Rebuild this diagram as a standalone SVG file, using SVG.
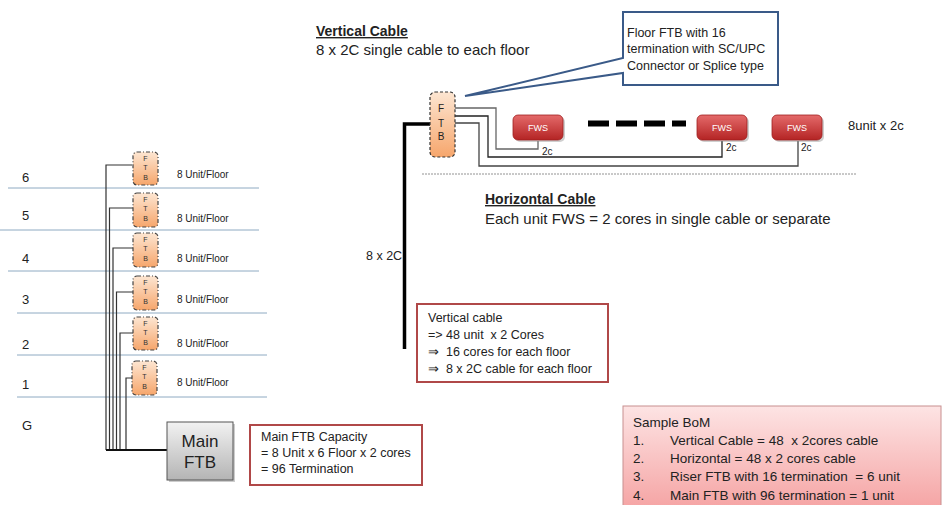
<svg xmlns="http://www.w3.org/2000/svg" width="945" height="505" viewBox="0 0 945 505">
<defs>
<linearGradient id="gOr" x1="0" y1="0" x2="0" y2="1"><stop offset="0" stop-color="#fde6d2"/><stop offset="1" stop-color="#f6a66c"/></linearGradient>
<linearGradient id="gRed" x1="0" y1="0" x2="0" y2="1"><stop offset="0" stop-color="#e46a6a"/><stop offset="1" stop-color="#b42424"/></linearGradient>
<linearGradient id="gGray" x1="0" y1="0" x2="0" y2="1"><stop offset="0" stop-color="#f2f2f2"/><stop offset="1" stop-color="#b4b4b4"/></linearGradient>
<linearGradient id="gPink" x1="0" y1="0" x2="0" y2="1"><stop offset="0" stop-color="#fde4e4"/><stop offset="1" stop-color="#f5a3a3"/></linearGradient>
</defs>
<style>
text{font-family:"Liberation Sans",Arial,sans-serif;fill:#222;white-space:pre}
.floor{stroke:#8eaac2;stroke-width:1}
.ftb{fill:url(#gOr);stroke:#444;stroke-width:1.2;stroke-dasharray:4 2 1 2}
.ftbl{font-size:7px;text-anchor:middle;fill:#333}
.unit{font-size:10px}
.fl{font-size:13px}
.w{fill:none;stroke:#333;stroke-width:1.2}
.fws{fill:url(#gRed);stroke:#a02020;stroke-width:0.8}
.fwst{font-size:9px;fill:#fff;text-anchor:middle}
.box{fill:#fff;stroke:#b04848;stroke-width:2}
.bt{font-size:12.5px}
.c2{font-size:10px}
.bom{font-size:13.5px}
</style>

<g id="floors">
<line class="floor" x1="8" y1="188" x2="259" y2="188"/>
<line class="floor" x1="0" y1="230" x2="259" y2="230"/>
<line class="floor" x1="8" y1="271" x2="259" y2="271"/>
<line class="floor" x1="17" y1="313" x2="267" y2="313"/>
<line class="floor" x1="17" y1="355" x2="267" y2="355"/>
<line class="floor" x1="17" y1="397" x2="267" y2="397"/>
<text class="fl" x="22" y="182">6</text>
<text class="fl" x="22" y="220">5</text>
<text class="fl" x="22" y="263">4</text>
<text class="fl" x="22" y="304">3</text>
<text class="fl" x="22" y="349">2</text>
<text class="fl" x="22" y="389">1</text>
<text class="fl" x="22" y="430">G</text>
</g>

<g id="connectors">
<polyline class="w" points="132,165 106,165 106,450"/>
<polyline class="w" points="133,208 109.5,208 109.5,450"/>
<polyline class="w" points="133,248 113,248 113,450"/>
<polyline class="w" points="133,292 116.5,292 116.5,450"/>
<polyline class="w" points="133,333 120,333 120,450"/>
<polyline class="w" points="132,378 126,378 126,450"/>
<line x1="106" y1="450" x2="168" y2="450" stroke="#111" stroke-width="2"/>
<polyline points="430,124 404.5,124 404.5,349" fill="none" stroke="#000" stroke-width="3.5"/>
<polyline points="447,108 496,108 496,149 538,149 538,141" fill="none" stroke="#666" stroke-width="1.3"/>
<polyline points="447,116 488,116 488,157 722,157 722,141" fill="none" stroke="#222" stroke-width="1.3"/>
<polyline points="447,123 479,123 479,166 798,166 798,141" fill="none" stroke="#444" stroke-width="1.3"/>
<line x1="588" y1="123.5" x2="686" y2="123.5" stroke="#000" stroke-width="6" stroke-dasharray="21 7"/>
<line x1="422" y1="174" x2="856" y2="174" stroke="#777" stroke-width="0.8" stroke-dasharray="2 1"/>
</g>

<g id="ftb6"><rect class="ftb" x="133" y="152" width="25" height="33" rx="4"/><text class="ftbl" x="145.5" y="161">F</text><text class="ftbl" x="145.5" y="170">T</text><text class="ftbl" x="145.5" y="180">B</text><text class="unit" x="177" y="178">8 Unit/Floor</text></g>
<g id="ftb5"><rect class="ftb" x="133" y="193" width="25" height="34" rx="4"/><text class="ftbl" x="145.5" y="202">F</text><text class="ftbl" x="145.5" y="211">T</text><text class="ftbl" x="145.5" y="221">B</text><text class="unit" x="177" y="222">8 Unit/Floor</text></g>
<g id="ftb4"><rect class="ftb" x="133" y="233" width="25" height="34" rx="4"/><text class="ftbl" x="145.5" y="242">F</text><text class="ftbl" x="145.5" y="251">T</text><text class="ftbl" x="145.5" y="261">B</text><text class="unit" x="177" y="262">8 Unit/Floor</text></g>
<g id="ftb3"><rect class="ftb" x="133" y="276" width="25" height="34" rx="4"/><text class="ftbl" x="145.5" y="285">F</text><text class="ftbl" x="145.5" y="294">T</text><text class="ftbl" x="145.5" y="304">B</text><text class="unit" x="177" y="303">8 Unit/Floor</text></g>
<g id="ftb2"><rect class="ftb" x="133" y="317" width="25" height="33" rx="4"/><text class="ftbl" x="145.5" y="326">F</text><text class="ftbl" x="145.5" y="335">T</text><text class="ftbl" x="145.5" y="345">B</text><text class="unit" x="177" y="347">8 Unit/Floor</text></g>
<g id="ftb1"><rect class="ftb" x="132" y="361" width="25" height="34" rx="4"/><text class="ftbl" x="144.5" y="370">F</text><text class="ftbl" x="144.5" y="379">T</text><text class="ftbl" x="144.5" y="389">B</text><text class="unit" x="177" y="386">8 Unit/Floor</text></g>

<g id="mainftb">
<rect x="169" y="424" width="66" height="58" fill="#999" opacity="0.5"/>
<rect x="167" y="422" width="66" height="58" fill="url(#gGray)" stroke="#555" stroke-width="1"/>
<text x="200" y="447" font-size="17" text-anchor="middle">Main</text>
<text x="200" y="468" font-size="17" text-anchor="middle">FTB</text>
</g>

<g id="capacity">
<rect class="box" x="250" y="425" width="172" height="60"/>
<text class="bt" x="261" y="441">Main FTB Capacity</text>
<text class="bt" x="261" y="457">= 8 Unit x 6 Floor x 2 cores</text>
<text class="bt" x="261" y="473">= 96 Termination</text>
</g>

<g id="vtitle">
<text x="316" y="36" font-size="14" font-weight="bold" text-decoration="underline">Vertical Cable</text>
<text x="316" y="55" font-size="15">8 x 2C single cable to each floor</text>
</g>

<g id="floorftb">
<rect x="430" y="92" width="25" height="65" rx="5" fill="url(#gOr)" stroke="#333" stroke-width="1.2" stroke-dasharray="3 2"/>
<text x="441" y="112" font-size="10" text-anchor="middle">F</text>
<text x="441" y="127" font-size="10" text-anchor="middle">T</text>
<text x="441" y="140" font-size="10" text-anchor="middle">B</text>
</g>

<g id="callout">
<path d="M623,12 H778 V85 H623 V73 L465,96 L623,58 Z" fill="#fff" stroke="#3a5a88" stroke-width="2" stroke-linejoin="miter"/>
<text class="bt" x="627" y="37">Floor FTB with 16</text>
<text class="bt" x="627" y="53">termination with SC/UPC</text>
<text class="bt" x="627" y="70">Connector or Splice type</text>
</g>

<g id="fws1"><rect x="515" y="117" width="50" height="25" rx="5" fill="#888" opacity="0.4"/><rect class="fws" x="513" y="115" width="50" height="25" rx="5"/><text class="fwst" x="538" y="131">FWS</text><text class="c2" x="542" y="155">2c</text></g>
<g id="fws2"><rect x="699" y="117" width="50" height="25" rx="5" fill="#888" opacity="0.4"/><rect class="fws" x="697" y="115" width="50" height="25" rx="5"/><text class="fwst" x="722" y="131">FWS</text><text class="c2" x="726" y="151">2c</text></g>
<g id="fws3"><rect x="774" y="117" width="50" height="25" rx="5" fill="#888" opacity="0.4"/><rect class="fws" x="772" y="115" width="50" height="25" rx="5"/><text class="fwst" x="797" y="131">FWS</text><text class="c2" x="801" y="151">2c</text></g>
<text x="848" y="130" font-size="13">8unit x 2c</text>

<g id="htitle">
<text x="485" y="204" font-size="14" font-weight="bold" text-decoration="underline">Horizontal Cable</text>
<text x="485" y="224" font-size="15">Each unit FWS = 2 cores in single cable or separate</text>
</g>
<text x="366" y="260" font-size="12.5">8 x 2C</text>

<g id="vbox">
<rect class="box" x="417" y="304" width="191" height="78"/>
<text class="bt" x="428" y="322">Vertical cable</text>
<text class="bt" x="428" y="339">=&gt; 48 unit  x 2 Cores</text>
<text class="bt" x="428" y="356">⇒  16 cores for each floor</text>
<text class="bt" x="428" y="373">⇒  8 x 2C cable for each floor</text>
</g>

<g id="bom">
<rect x="623" y="406" width="318" height="104" fill="url(#gPink)" stroke="#c89090" stroke-width="1"/>
<text class="bom" x="633" y="427">Sample BoM</text>
<text class="bom" x="633" y="445">1.</text><text class="bom" x="670" y="445">Vertical Cable = 48  x 2cores cable</text>
<text class="bom" x="633" y="463">2.</text><text class="bom" x="670" y="463">Horizontal = 48 x 2 cores cable</text>
<text class="bom" x="633" y="481">3.</text><text class="bom" x="670" y="481">Riser FTB with 16 termination  = 6 unit</text>
<text class="bom" x="633" y="500">4.</text><text class="bom" x="670" y="500">Main FTB with 96 termination = 1 unit</text>
</g>
</svg>
